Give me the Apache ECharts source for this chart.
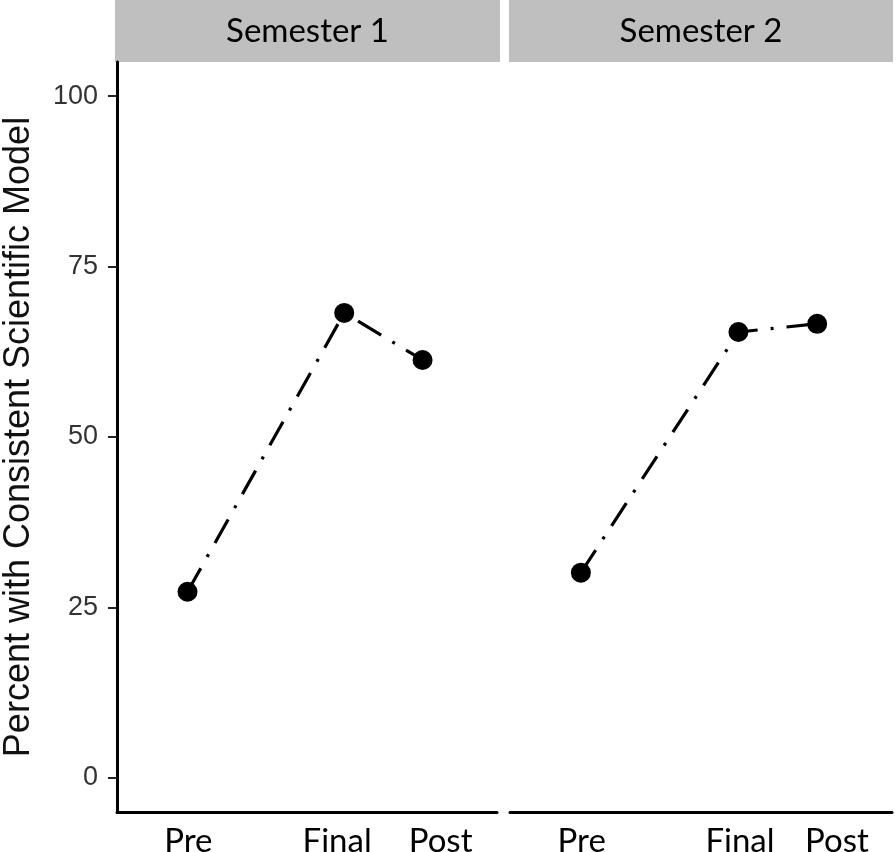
<!DOCTYPE html>
<html>
<head>
<meta charset="utf-8">
<script src="https://cdn.jsdelivr.net/npm/echarts@6/dist/echarts.min.js"></script>
<style>
  html, body { margin: 0; padding: 0; background: #fff; }
  #chart { width: 896px; height: 852px; }
</style>
</head>
<body>
<div id="chart"></div>
<script>
// ---- data ----
const categories = ['Pre', 'Final', 'Post'];
const occasionX = [1, 3, 4];            // position of each occasion on the x scale
const semesters = ['Semester 1', 'Semester 2'];
const semester1 = [27.3, 68.2, 61.3];
const semester2 = [30.1, 65.4, 66.6];
const yTicks = [0, 25, 50, 75, 100];
const yTitle = 'Percent with Consistent Scientific Model';

// ---- layout ----
const labelAt = [[1.01, 2.91, 4.23], [1.01, 3.02, 4.25]]; // where the tick labels sit on the x scale
const seriesValues = [semester1, semester2];
const grids = [
  { left: 117, right: 896 - 497, top: 62, bottom: 40, containLabel: false, outerBoundsMode: 'none' },
  { left: 510, right: 896 - 892, top: 62, bottom: 40, containLabel: false, outerBoundsMode: 'none' }
];
const labelFont = 'Lato, "Open Sans", sans-serif';

const xAxes = grids.map((g, i) => ({
  type: 'value', gridIndex: i, min: 0.1, max: 4.95,
  splitLine: { show: false },
  axisLine: { show: true, onZero: false, lineStyle: { color: '#000', width: 3 } },
  axisTick: { show: false },
  axisLabel: {
    show: true,
    customValues: labelAt[i],
    formatter: v => {
      const k = labelAt[i].findIndex(p => Math.abs(p - v) < 1e-6);
      return k >= 0 ? categories[k] : '';
    },
    color: '#000', fontFamily: labelFont, fontSize: 33, margin: 13
  }
}));

const yAxes = grids.map((g, i) => ({
  type: 'value', gridIndex: i, min: -5, max: 105,
  splitLine: { show: false },
  axisLine: { show: i === 0, onZero: false, lineStyle: { color: '#000', width: 3 } },
  axisTick: { show: i === 0, customValues: yTicks, length: 9, lineStyle: { color: '#222', width: 2 } },
  axisLabel: {
    show: i === 0, customValues: yTicks,
    color: '#333', fontFamily: 'Liberation Sans, Arial, sans-serif', fontSize: 27, margin: 19
  },
  name: i === 0 ? yTitle : '',
  nameLocation: 'middle', nameGap: 80,
  nameTextStyle: { color: '#111', fontFamily: 'Liberation Sans, Arial, sans-serif', fontSize: 36 }
}));

const series = seriesValues.map((vals, i) => ({
  type: 'line', xAxisIndex: i, yAxisIndex: i,
  name: semesters[i],
  data: vals.map((v, k) => [occasionX[k], v]),
  symbol: 'circle', symbolSize: 20,
  itemStyle: { color: '#000' },
  lineStyle: { color: '#000', width: 3.2, type: [27, 13, 3, 13], cap: 'butt' },
  emphasis: { disabled: true },
  animation: false
}));

const stripBoxes = [[115, 500], [509, 893]];
const graphic = stripBoxes.map((b, i) => ({
  type: 'group',
  children: [
    { type: 'rect', shape: { x: b[0], y: 0, width: b[1] - b[0], height: 62 }, style: { fill: '#bfbfbf' } },
    { type: 'text', x: (b[0] + b[1]) / 2, y: 31,
      style: { text: semesters[i], fill: '#000', font: '33px ' + labelFont, align: 'center', verticalAlign: 'middle' } }
  ]
}));

const chart = echarts.init(document.getElementById('chart'), null, { renderer: 'canvas' });
chart.setOption({
  animation: false,
  backgroundColor: '#fff',
  grid: grids,
  xAxis: xAxes,
  yAxis: yAxes,
  series: series,
  graphic: graphic
});
</script>
</body>
</html>
